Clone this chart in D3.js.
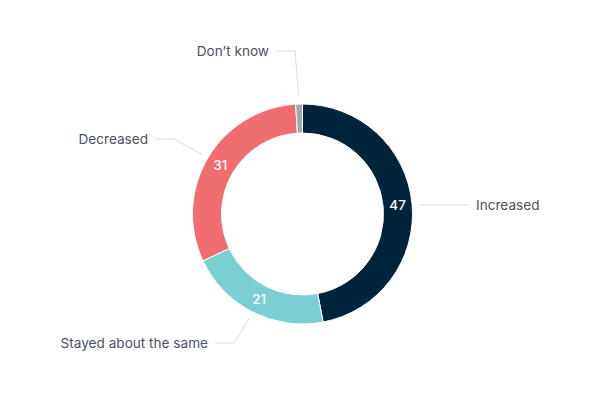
<!DOCTYPE html>
<html><head><meta charset="utf-8">
<script src="https://cdn.jsdelivr.net/npm/d3@7"></script>
<style>html,body{margin:0;padding:0;background:#fff;}svg{display:block;font-family:Inter,"Noto Sans",sans-serif;}</style>
</head><body>
<svg id="chart" width="600" height="400"></svg>
<script>
const categories = ["Increased", "Stayed about the same", "Decreased", "Don\u2019t know"];
const values = [47, 21, 31, 1];
const colors = ["#01243d", "#79cfd2", "#f16e70", "#9fa9b0"];

// label layout (relative to centre): text anchor point and side
const labelLayout = [
  {x: 173.5, y: -9, side: "right"},
  {x: -94.5, y: 129, side: "left"},
  {x: -154.5, y: -75, side: "left"},
  {x: -33.5, y: -163, side: "left"}
];

const W = 600, H = 400, cx = 302.5, cy = 214, R = 110, r = 81;
const svg = d3.select("#chart");
const g = svg.append("g").attr("transform", `translate(${cx},${cy})`);

const data = categories.map((c, i) => ({name: c, value: values[i], color: colors[i], layout: labelLayout[i]}));
const pie = d3.pie().value(d => d.value).sort(null);
const arcs = pie(data);
const arc = d3.arc().innerRadius(r).outerRadius(R);
const labelArc = d3.arc().innerRadius((R + r) / 2).outerRadius((R + r) / 2);

g.selectAll("path.slice").data(arcs).enter().append("path")
  .attr("class", "slice")
  .attr("d", arc)
  .attr("fill", d => d.data.color)
  .attr("stroke", "#fff").attr("stroke-width", 1);

// inner value labels (skip tiny)
g.selectAll("text.val").data(arcs.filter(d => d.data.value >= 5)).enter().append("text")
  .attr("class", "val")
  .attr("x", d => labelArc.centroid(d)[0])
  .attr("y", d => labelArc.centroid(d)[1])
  .attr("text-anchor", "middle").attr("dominant-baseline", "central")
  .attr("fill", "#fff").attr("font-size", 13.5).attr("font-weight", 500)
  .text(d => d.data.value);

// connectors and outer labels
arcs.forEach(d => {
  const mid = (d.startAngle + d.endAngle) / 2;
  const ax = Math.sin(mid) * (R + 7), ay = -Math.cos(mid) * (R + 7);
  const L = d.data.layout;
  const dir = L.side === "right" ? 1 : -1;
  const ex = L.x - dir * 7;
  const bx = ex - dir * 19;
  let pts;
  if (L.side === "right") pts = [[ax, L.y], [ex, L.y]];
  else pts = [[ax, ay], [bx, L.y], [ex, L.y]];
  g.append("path")
    .attr("d", d3.line()(pts))
    .attr("fill", "none").attr("stroke", "#d8dee6").attr("stroke-width", 1);
  g.append("text")
    .attr("x", L.x).attr("y", L.y)
    .attr("text-anchor", L.side === "right" ? "start" : "end")
    .attr("dominant-baseline", "central")
    .attr("fill", "#4a5262").attr("font-size", 13.6)
    .text(d.data.name);
});
</script>
</body></html>
